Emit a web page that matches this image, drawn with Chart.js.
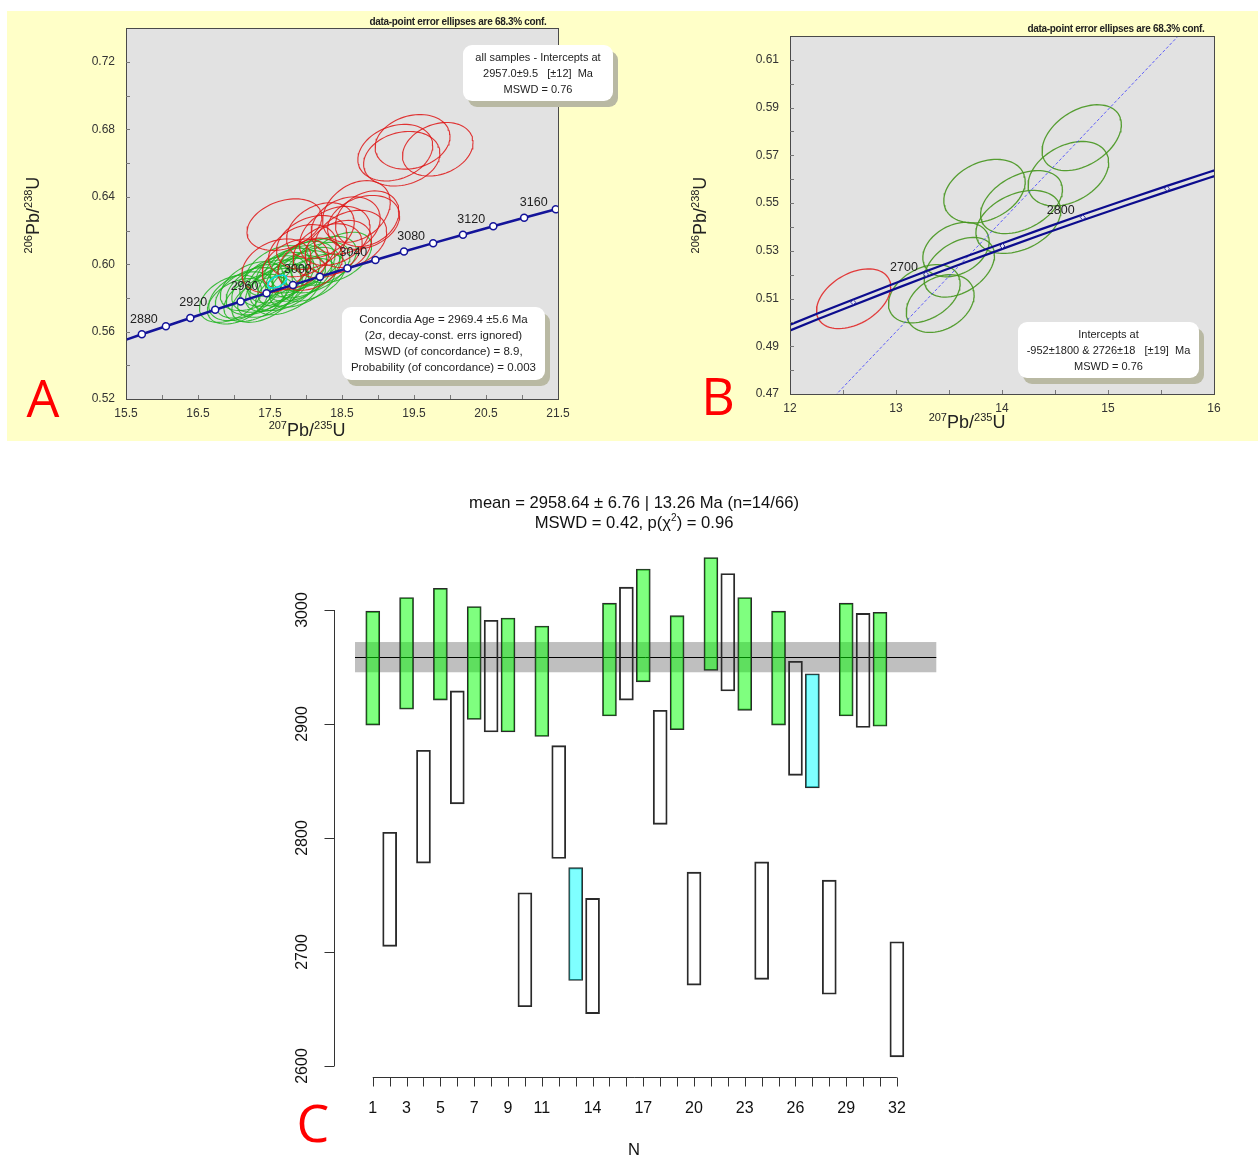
<!DOCTYPE html>
<html>
<head>
<meta charset="utf-8">
<title>Concordia and weighted mean</title>
<script src="https://cdn.jsdelivr.net/npm/chart.js@4.4.0/dist/chart.umd.min.js"></script>
<style>
  body { margin: 0; width: 1260px; height: 1158px; position: relative; overflow: hidden; background: #fff;
         font-family: "Liberation Sans", Arial, sans-serif; color: #222; }
  #yellow { position: absolute; left: 7px; top: 11px; width: 1251px; height: 430px; background: #ffffc8; }
  canvas { position: absolute; }
  .note { position: absolute; font-size: 10px; font-weight: bold; letter-spacing: -0.3px; white-space: nowrap; transform: translate(-50%, -50%); color: #222; }
  .box { position: absolute; background: #fff; border-radius: 9px; box-shadow: 5px 6px 0 #b9b9a3;
         font-size: 11px; line-height: 16px; text-align: center; white-space: nowrap; box-sizing: border-box; padding-top: 4px; }
  .letter { position: absolute; color: #ff0000; font-family: "Open Sans", sans-serif; font-size: 52px; line-height: 1; transform: translate(-50%, -50%); }
  .axt { position: absolute; font-size: 18px; white-space: nowrap; transform: translate(-50%, -50%); }
  .axt sup { font-size: 11px; vertical-align: 7px; line-height: 0; }
  .axt.rot { transform: translate(-50%, -50%) rotate(-90deg); }
  .ttl { position: absolute; font-size: 16.6px; white-space: nowrap; transform: translate(-50%, -50%); color: #111; }
  .ttl sup { font-size: 10px; line-height: 0; }
</style>
</head>
<body>
<div id="yellow"></div>
<canvas id="chartA" width="610" height="430" style="left:7px; top:11px;"></canvas>
<canvas id="chartB" width="641" height="430" style="left:617px; top:11px;"></canvas>
<canvas id="chartC" width="1260" height="713" style="left:0; top:445px;"></canvas>

<div class="note" style="left:458px; top:21px;">data-point error ellipses are 68.3% conf.</div>
<div class="note" style="left:1116px; top:28px;">data-point error ellipses are 68.3% conf.</div>

<div class="box" style="left:463px; top:45px; width:150px; height:56px;">all samples - Intercepts at<br>2957.0±9.5 &nbsp;&nbsp;[±12] &nbsp;Ma<br>MSWD = 0.76</div>
<div class="box" style="left:342px; top:307px; width:203px; height:73px; font-size:11.5px;">Concordia Age = 2969.4 ±5.6 Ma<br>(2σ, decay-const. errs ignored)<br>MSWD (of concordance) = 8.9,<br>Probability (of concordance) = 0.003</div>
<div class="box" style="left:1018px; top:322px; width:181px; height:56px;">Intercepts at<br>-952±1800 &amp; 2726±18 &nbsp;&nbsp;[±19] &nbsp;Ma<br>MSWD = 0.76</div>

<div class="axt rot" style="left:33px; top:215px;"><sup>206</sup>Pb/<sup>238</sup>U</div>
<div class="axt" style="left:307px; top:430px;"><sup>207</sup>Pb/<sup>235</sup>U</div>
<div class="axt rot" style="left:700px; top:215px;"><sup>206</sup>Pb/<sup>238</sup>U</div>
<div class="axt" style="left:967px; top:422px;"><sup>207</sup>Pb/<sup>235</sup>U</div>

<div class="ttl" style="left:634px; top:503px;">mean = 2958.64 ± 6.76 | 13.26 Ma (n=14/66)</div>
<div class="ttl" style="left:634px; top:523px;">MSWD = 0.42, p(χ<sup>2</sup>) = 0.96</div>
<div class="ttl" style="left:634px; top:1150px;">N</div>

<div class="letter" style="left:43px; top:397px;">A</div>
<div class="letter" style="left:718px; top:395px;">B</div>
<div class="letter" style="left:313px; top:1122px;">C</div>

<script>
// error ellipses: [x, y, half-width x, half-width y, rho]
const ellGreenA = [
  [16.95, 0.5795, 0.43, 0.0140, 0.4], [17.10, 0.5810, 0.45, 0.0145, 0.4],
  [17.20, 0.5830, 0.46, 0.0150, 0.45], [17.05, 0.5780, 0.42, 0.0135, 0.4],
  [17.30, 0.5800, 0.44, 0.0140, 0.45], [17.35, 0.5850, 0.46, 0.0150, 0.4],
  [17.45, 0.5870, 0.48, 0.0155, 0.45], [17.50, 0.5830, 0.45, 0.0145, 0.5],
  [17.55, 0.5900, 0.47, 0.0150, 0.4], [17.60, 0.5860, 0.44, 0.0140, 0.5],
  [17.65, 0.5920, 0.46, 0.0150, 0.45], [17.70, 0.5880, 0.48, 0.0155, 0.4],
  [17.75, 0.5950, 0.45, 0.0145, 0.4], [17.80, 0.5900, 0.47, 0.0150, 0.5],
  [17.85, 0.5970, 0.44, 0.0140, 0.4], [17.90, 0.5930, 0.46, 0.0150, 0.45],
  [17.95, 0.5990, 0.45, 0.0145, 0.4], [18.00, 0.5950, 0.47, 0.0150, 0.5],
  [18.05, 0.6010, 0.44, 0.0140, 0.4], [18.15, 0.5980, 0.46, 0.0150, 0.45],
  [18.25, 0.6020, 0.45, 0.0145, 0.4], [18.45, 0.6040, 0.46, 0.0150, 0.45],
  [17.40, 0.5790, 0.43, 0.0135, 0.45], [17.75, 0.5840, 0.45, 0.0140, 0.5],
  [17.25, 0.5870, 0.44, 0.0145, 0.4], [17.95, 0.5890, 0.46, 0.0145, 0.5],
  [18.10, 0.5920, 0.45, 0.0140, 0.5], [17.60, 0.5960, 0.45, 0.0150, 0.4]
];
const ellRedA = [
  [19.24, 0.6662, 0.52, 0.0168, 0.25], [19.48, 0.6726, 0.52, 0.0162, 0.2],
  [19.83, 0.6682, 0.49, 0.0159, 0.25], [19.33, 0.6626, 0.53, 0.0162, 0.2],
  [17.70, 0.6235, 0.52, 0.0153, 0.3], [18.70, 0.6313, 0.47, 0.0183, 0.3],
  [18.80, 0.6248, 0.50, 0.0160, 0.25], [18.08, 0.6129, 0.49, 0.0160, 0.3],
  [18.40, 0.6168, 0.49, 0.0175, 0.3], [17.59, 0.5990, 0.48, 0.0160, 0.3],
  [18.06, 0.6000, 0.45, 0.0155, 0.3], [18.62, 0.6150, 0.50, 0.0170, 0.25],
  [18.30, 0.6080, 0.48, 0.0160, 0.3], [17.95, 0.6080, 0.47, 0.0155, 0.3],
  [18.55, 0.6230, 0.48, 0.0170, 0.25], [18.20, 0.6200, 0.47, 0.0165, 0.3],
  [17.85, 0.6000, 0.46, 0.0150, 0.35], [18.45, 0.6100, 0.46, 0.0160, 0.3],
  [18.85, 0.6270, 0.44, 0.0165, 0.25]
];
const ellCyanA = [[17.60, 0.5897, 0.13, 0.0038, 0.5]];

// concordia, panel A (ages in Ma)
const concAgesA = [2845, 2860, 2880, 2900, 2920, 2940, 2960, 2980, 3000, 3020, 3040, 3060, 3080, 3100, 3120, 3140, 3160];
const concXA = [15.476, 15.720, 16.054, 16.393, 16.739, 17.092, 17.452, 17.819, 18.193, 18.575, 18.964, 19.361, 19.766, 20.180, 20.601, 21.030, 21.469];
const concYA = [0.5548, 0.5584, 0.5632, 0.5681, 0.5730, 0.5779, 0.5828, 0.5877, 0.5926, 0.5976, 0.6025, 0.6075, 0.6125, 0.6175, 0.6225, 0.6276, 0.6326];

const xTicksA = [15.5, 16.5, 17.5, 18.5, 19.5, 20.5, 21.5];
const xMinorA = [16, 16.5, 17, 17.5, 18, 18.5, 19, 19.5, 20, 20.5, 21];
const yTicksA = [0.52, 0.56, 0.60, 0.64, 0.68, 0.72];
const yMinorA = [0.54, 0.56, 0.58, 0.60, 0.62, 0.64, 0.66, 0.68, 0.70, 0.72];

// panel B
const ellGreenB = [
  [14.752, 0.5774, 0.374, 0.0138, 0.4], [14.626, 0.5623, 0.380, 0.0135, 0.35],
  [13.835, 0.5550, 0.384, 0.0133, 0.3], [14.184, 0.5504, 0.386, 0.0132, 0.4],
  [14.154, 0.5421, 0.400, 0.0132, 0.35], [13.566, 0.5305, 0.313, 0.0114, 0.3],
  [13.597, 0.5231, 0.332, 0.0125, 0.4], [13.267, 0.5120, 0.338, 0.0122, 0.35],
  [13.417, 0.5079, 0.320, 0.0121, 0.3]
];
const ellRedB = [[12.60, 0.5099, 0.350, 0.0125, 0.4]];

const concAgesB = [2600, 2625, 2650, 2675, 2700, 2725, 2750, 2775, 2800, 2825, 2850, 2875, 2900];
const concXB = [11.944, 12.266, 12.597, 12.936, 13.283, 13.639, 14.004, 14.378, 14.762, 15.154, 15.557, 15.970, 16.393];
const concYB = [0.4968, 0.5026, 0.5084, 0.5143, 0.5202, 0.5261, 0.5320, 0.5380, 0.5440, 0.5500, 0.5560, 0.5620, 0.5681];
const bandHiB = [0.4980, 0.5038, 0.5096, 0.5155, 0.5214, 0.5273, 0.5332, 0.5392, 0.5452, 0.5512, 0.5572, 0.5632, 0.5693];
const bandLoB = [0.4956, 0.5014, 0.5072, 0.5131, 0.5190, 0.5249, 0.5308, 0.5368, 0.5428, 0.5488, 0.5548, 0.5608, 0.5669];
const discXB = [12.0, 16.0];
const discYB = [0.4495, 0.6357];

const xTicksB = [12, 13, 14, 15, 16];
const xMinorB = [12.5, 13, 13.5, 14, 14.5, 15, 15.5];
const yTicksB = [0.47, 0.49, 0.51, 0.53, 0.55, 0.57, 0.59, 0.61];
const yMinorB = [0.48, 0.49, 0.50, 0.51, 0.52, 0.53, 0.54, 0.55, 0.56, 0.57, 0.58, 0.59, 0.60, 0.61];

// panel C: weighted mean of ages
const ageLo = [2899, 2705, 2913, 2778, 2921, 2830, 2904, 2893, 2893, 2652, 2889, 2782, 2675, 2646, 2907, 2921,
               2937, 2812, 2895, 2671, 2947, 2929, 2912, 2676, 2899, 2855, 2844, 2663, 2907, 2897, 2898, 2608];
const ageHi = [2999, 2805, 3011, 2877, 3019, 2929, 3003, 2991, 2993, 2752, 2986, 2881, 2774, 2747, 3006, 3020,
               3036, 2912, 2995, 2770, 3046, 3032, 3011, 2779, 2999, 2955, 2944, 2763, 3006, 2997, 2998, 2709];
// g = accepted, w = rejected, c = outlier
const ageKind = ['g', 'w', 'g', 'w', 'g', 'w', 'g', 'w', 'g', 'w', 'g', 'w', 'c', 'w', 'g', 'w',
                 'g', 'w', 'g', 'w', 'g', 'w', 'g', 'w', 'g', 'w', 'c', 'w', 'g', 'w', 'g', 'w'];
const meanAge = 2958.64;
const meanErr = 13.26;
const yTicksC = [2600, 2700, 2800, 2900, 3000];
const xLabelsC = [1, 3, 5, 7, 9, 11, 14, 17, 20, 23, 26, 29, 32];

const FONT = '"Liberation Sans", Arial, sans-serif';

function ellipsePoints(e) {
  const [cx, cy, hx, hy, r] = e;
  const s = Math.sqrt(1 - r * r);
  const pts = [];
  for (let k = 0; k <= 80; k++) {
    const t = k / 80 * 2 * Math.PI;
    pts.push({ x: cx + hx * Math.cos(t), y: cy + hy * (r * Math.cos(t) + s * Math.sin(t)) });
  }
  return pts;
}

function ellipseDataset(e, color, order, width) {
  return { data: ellipsePoints(e), showLine: true, borderColor: color, borderWidth: width || 1.1,
           pointRadius: 0, fill: false, order: order };
}

function zipXY(xs, ys) {
  return xs.map((x, i) => ({ x: x, y: ys[i] }));
}

// grey plot box, inner ticks, tick labels and age labels on the concordia
function concordiaFrame(cfg) {
  return {
    id: 'concordiaFrame',
    beforeDraw(chart) {
      const { ctx, chartArea: a } = chart;
      ctx.save();
      ctx.fillStyle = '#e2e2e2';
      ctx.fillRect(a.left, a.top, a.right - a.left, a.bottom - a.top);
      ctx.restore();
    },
    afterDraw(chart) {
      const { ctx, chartArea: a } = chart;
      const x = chart.scales.x, y = chart.scales.y;
      ctx.save();

      // age labels
      ctx.fillStyle = '#222';
      ctx.font = '12.5px ' + FONT;
      ctx.textAlign = 'center';
      ctx.textBaseline = 'middle';
      cfg.ages.forEach((t, i) => {
        if (t % cfg.labelStep !== 0) return;
        const vx = cfg.ax[i], vy = cfg.ay[i];
        if (vx < x.min || vx > x.max) return;
        ctx.fillText(String(t), x.getPixelForValue(vx) - 22, y.getPixelForValue(vy) - 7);
      });

      ctx.strokeStyle = '#4a4a4a';
      ctx.lineWidth = 1;
      ctx.strokeRect(Math.round(a.left) + 0.5, Math.round(a.top) + 0.5,
                     Math.round(a.right - a.left), Math.round(a.bottom - a.top));

      ctx.strokeStyle = '#777';
      ctx.beginPath();
      cfg.xMinor.forEach(v => {
        const px = Math.round(x.getPixelForValue(v)) + 0.5;
        ctx.moveTo(px, a.bottom);
        ctx.lineTo(px, a.bottom - 4);
      });
      cfg.yMinor.forEach(v => {
        const py = Math.round(y.getPixelForValue(v)) + 0.5;
        ctx.moveTo(a.left, py);
        ctx.lineTo(a.left + 4, py);
      });
      ctx.stroke();

      ctx.fillStyle = '#333';
      ctx.font = '12px ' + FONT;
      ctx.textAlign = 'center';
      cfg.xTicks.forEach(v => ctx.fillText(v.toFixed(cfg.xDec), x.getPixelForValue(v), a.bottom + 15));
      ctx.textAlign = 'right';
      cfg.yTicks.forEach(v => ctx.fillText(v.toFixed(2), a.left - 11, y.getPixelForValue(v)));
      ctx.restore();
    }
  };
}

const baseOptions = (xr, yr, pad) => ({
  responsive: false,
  animation: false,
  events: [],
  layout: { padding: pad },
  plugins: { legend: { display: false }, tooltip: { enabled: false } },
  scales: {
    x: { type: 'linear', min: xr[0], max: xr[1], display: false },
    y: { type: 'linear', min: yr[0], max: yr[1], display: false }
  }
});

// ---- Panel A ----
const dsA = [];
ellGreenA.forEach(e => dsA.push(ellipseDataset(e, 'rgba(30,180,30,0.85)', 4)));
ellRedA.forEach(e => dsA.push(ellipseDataset(e, 'rgba(222,20,20,0.85)', 3)));
ellCyanA.forEach(e => dsA.push(ellipseDataset(e, '#00e0e0', 2, 1.5)));
dsA.push({ data: zipXY(concXA, concYA), showLine: true, borderColor: '#14149a', borderWidth: 2.5,
           pointRadius: 0, order: 1 });
dsA.push({ data: zipXY(concXA, concYA).filter((p, i) => concAgesA[i] % 20 === 0), showLine: false,
           pointRadius: 3.5, pointBackgroundColor: '#fff', pointBorderColor: '#14149a', pointBorderWidth: 1.5, order: 0 });

new Chart(document.getElementById('chartA'), {
  type: 'scatter',
  data: { datasets: dsA },
  options: baseOptions([15.5, 21.5], [0.52, 0.74], { left: 119, right: 59, top: 17.3, bottom: 42 }),
  plugins: [concordiaFrame({ ages: concAgesA, ax: concXA, ay: concYA, labelStep: 40,
                             xTicks: xTicksA, xMinor: xMinorA, yTicks: yTicksA, yMinor: yMinorA, xDec: 1 })]
});

// ---- Panel B ----
const dsB = [];
ellGreenB.forEach(e => dsB.push(ellipseDataset(e, 'rgba(70,150,30,0.9)', 5, 1.3)));
ellRedB.forEach(e => dsB.push(ellipseDataset(e, 'rgba(225,40,40,0.9)', 4, 1.3)));
dsB.push({ data: zipXY(discXB, discYB), showLine: true, borderColor: 'rgba(60,60,255,0.8)', borderWidth: 1,
           borderDash: [3, 2], pointRadius: 0, order: 3 });
dsB.push({ data: zipXY(concXB, bandHiB), showLine: true, borderColor: '#0c0c8e', borderWidth: 2.2, pointRadius: 0, order: 2 });
dsB.push({ data: zipXY(concXB, bandLoB), showLine: true, borderColor: '#0c0c8e', borderWidth: 2.2, pointRadius: 0, order: 2 });
dsB.push({ data: zipXY(concXB, concYB).filter((p, i) => concAgesB[i] % 50 === 0), showLine: false,
           pointStyle: 'rectRot', pointRadius: 2.5, pointBackgroundColor: '#e6e6f4', pointBorderColor: '#0c0c8e',
           pointBorderWidth: 0.8, order: 1 });

new Chart(document.getElementById('chartB'), {
  type: 'scatter',
  data: { datasets: dsB },
  options: baseOptions([12, 16], [0.47, 0.62], { left: 173, right: 44, top: 25, bottom: 47 }),
  plugins: [concordiaFrame({ ages: concAgesB, ax: concXB, ay: concYB, labelStep: 100,
                             xTicks: xTicksB, xMinor: xMinorB, yTicks: yTicksB, yMinor: yMinorB, xDec: 0 })]
});

// ---- Panel C ----
const kindFill = { g: 'rgba(0,255,0,0.5)', c: 'rgba(0,255,255,0.5)', w: 'rgba(255,255,255,0)' };

const meanBand = {
  id: 'meanBand',
  beforeDatasetsDraw(chart) {
    const { ctx, chartArea: a } = chart;
    const y = chart.scales.y;
    const top = y.getPixelForValue(meanAge + meanErr);
    const bot = y.getPixelForValue(meanAge - meanErr);
    const ym = Math.round(y.getPixelForValue(meanAge)) + 0.5;
    ctx.save();
    ctx.fillStyle = '#bfbfbf';
    ctx.fillRect(a.left, top, a.right - a.left, bot - top);
    ctx.strokeStyle = '#000';
    ctx.lineWidth = 1;
    ctx.beginPath();
    ctx.moveTo(a.left, ym);
    ctx.lineTo(a.right, ym);
    ctx.stroke();
    ctx.restore();
  }
};

// R-style detached axes
const rAxes = {
  id: 'rAxes',
  afterDraw(chart) {
    const { ctx, chartArea: a } = chart;
    const x = chart.scales.x, y = chart.scales.y;
    ctx.save();
    ctx.strokeStyle = '#333';
    ctx.lineWidth = 1;
    ctx.fillStyle = '#111';
    ctx.font = '16px ' + FONT;
    ctx.textAlign = 'center';
    ctx.textBaseline = 'middle';

    // y axis
    const ax = Math.round(a.left - 21) + 0.5;
    ctx.beginPath();
    ctx.moveTo(ax, y.getPixelForValue(yTicksC[0]));
    ctx.lineTo(ax, y.getPixelForValue(yTicksC[yTicksC.length - 1]));
    yTicksC.forEach(v => {
      const py = Math.round(y.getPixelForValue(v)) + 0.5;
      ctx.moveTo(ax, py);
      ctx.lineTo(ax - 10, py);
    });
    ctx.stroke();
    yTicksC.forEach(v => {
      ctx.save();
      ctx.translate(a.left - 52, y.getPixelForValue(v));
      ctx.rotate(-Math.PI / 2);
      ctx.fillText(String(v), 0, 0);
      ctx.restore();
    });

    // x axis
    const ay = Math.round(a.bottom) + 0.5;
    ctx.beginPath();
    ctx.moveTo(x.getPixelForValue(1), ay);
    ctx.lineTo(x.getPixelForValue(ageLo.length), ay);
    ageLo.forEach((v, i) => {
      const px = Math.round(x.getPixelForValue(i + 1)) + 0.5;
      ctx.moveTo(px, ay);
      ctx.lineTo(px, ay + 9);
    });
    ctx.stroke();
    xLabelsC.forEach(v => ctx.fillText(String(v), x.getPixelForValue(v), a.bottom + 31));
    ctx.restore();
  }
};

new Chart(document.getElementById('chartC'), {
  type: 'bar',
  data: {
    datasets: [{
      data: ageLo.map((lo, i) => ({ x: i + 1, y: [lo, ageHi[i]] })),
      backgroundColor: ageKind.map(k => kindFill[k]),
      borderColor: '#2a2a2a',
      borderWidth: 1.2,
      borderSkipped: false,
      barThickness: 14
    }]
  },
  options: {
    responsive: false,
    animation: false,
    events: [],
    layout: { padding: { left: 355, right: 323.7, top: 96.6, bottom: 80.6 } },
    plugins: { legend: { display: false }, tooltip: { enabled: false } },
    scales: {
      x: { type: 'linear', min: -0.05, max: 34.33, offset: false, display: false },
      y: { type: 'linear', min: 2590, max: 3060, display: false }
    }
  },
  plugins: [meanBand, rAxes]
});
</script>
</body>
</html>
